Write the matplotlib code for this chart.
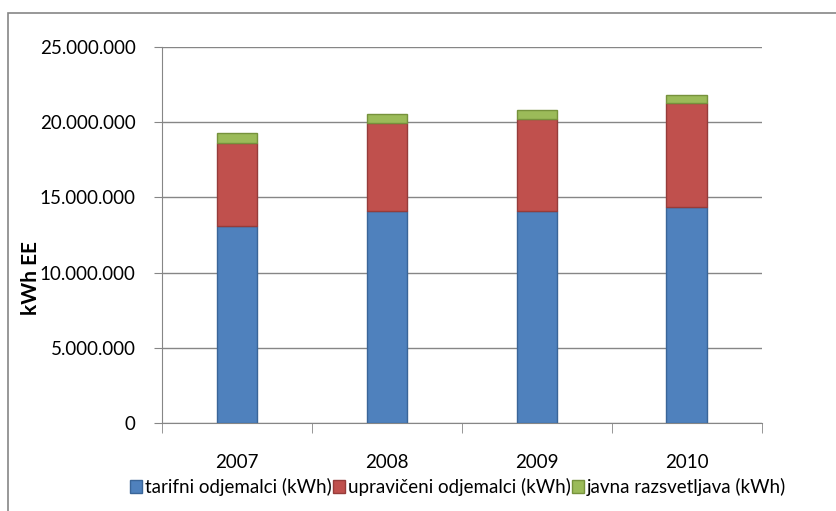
import numpy as np
import matplotlib
matplotlib.use("Agg")
import matplotlib.pyplot as plt
from matplotlib.patches import Rectangle

plt.rcParams['font.family'] = ['Lato', 'DejaVu Sans']

years = ['2007', '2008', '2009', '2010']
tarifni = [13100000, 14130000, 14130000, 14350000]
upraviceni = [5490000, 5850000, 6070000, 6910000]
javna = [670000, 580000, 610000, 580000]
labels = ['tarifni odjemalci (kWh)', 'upravičeni odjemalci (kWh)', 'javna razsvetljava (kWh)']
yticks = [0, 5000000, 10000000, 15000000, 20000000, 25000000]
ytick_labels = ['0', '5.000.000', '10.000.000', '15.000.000', '20.000.000', '25.000.000']

fs = 13.5

fig = plt.figure(figsize=(8.36, 5.11), dpi=100)
ax = fig.add_axes([0.194, 0.172, 0.717, 0.736])

x = np.arange(len(years))
w = 0.27
b1 = ax.bar(x, tarifni, w, color='#4F81BD', edgecolor='#3A6598', lw=1, label=labels[0], zorder=3)
bot = np.array(tarifni)
b2 = ax.bar(x, upraviceni, w, bottom=bot, color='#C0504D', edgecolor='#963C3A', lw=1, label=labels[1], zorder=3)
bot = bot + np.array(upraviceni)
b3 = ax.bar(x, javna, w, bottom=bot, color='#9BBB59', edgecolor='#76923C', lw=1, label=labels[2], zorder=3)

ax.set_xlim(-0.5, 3.5)
ax.set_ylim(0, 25000000)
ax.set_yticks(yticks)
ax.set_yticklabels(ytick_labels, fontsize=fs)
ax.yaxis.grid(True, color='#868686', lw=1, zorder=0)
ax.set_xticks(x)
ax.set_xticklabels(years, fontsize=fs)
ax.set_xticks(np.arange(-0.5, 4.0, 1), minor=True)
ax.tick_params(axis='x', which='major', length=0, pad=22)
ax.tick_params(axis='x', which='minor', length=7, color='#868686', direction='out')
ax.tick_params(axis='y', length=6, color='#868686', direction='out', pad=13)
for s in ['top', 'right']:
    ax.spines[s].set_visible(False)
for s in ['left', 'bottom']:
    ax.spines[s].set_color('#868686')

fig.text(0.037, 1 - 278 / 511, 'kWh EE', rotation=90, fontsize=15, fontweight='bold',
         ha='center', va='center')

fig.legend(handles=[b1, b2, b3], loc='center', bbox_to_anchor=(0.548, 1 - 487 / 511),
           ncol=3, frameon=False, fontsize=fs, handlelength=0.65, handleheight=0.65,
           handletextpad=0.15, columnspacing=0.05)

fig.patches.append(Rectangle((8 / 836, -0.1), 1.2, 1.1 - 13 / 511, transform=fig.transFigure,
                             fill=False, edgecolor='#868686', lw=1.2))

fig.savefig('out.png', dpi=100)
